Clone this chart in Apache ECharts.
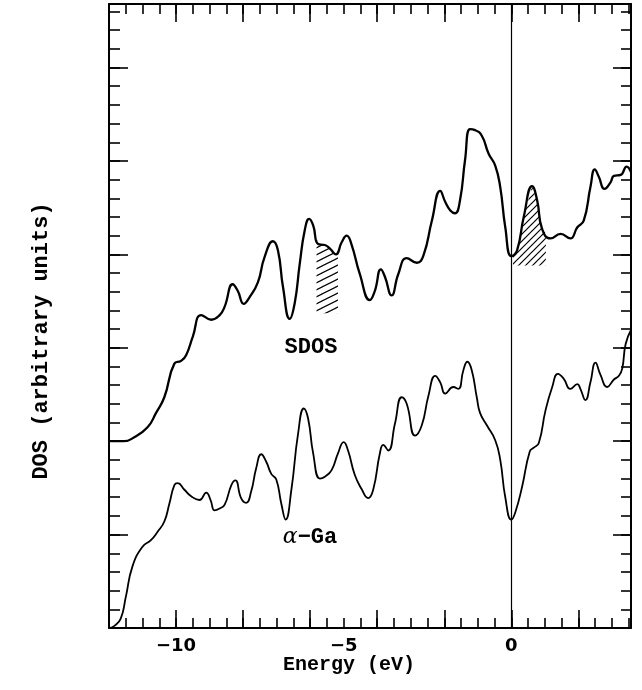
<!DOCTYPE html>
<html>
<head>
<meta charset="utf-8">
<script src="https://cdn.jsdelivr.net/npm/echarts@6/dist/echarts.min.js"></script>
<style>
html,body{margin:0;padding:0;background:#fff;}
#chart{width:642px;height:690px;}
</style>
</head>
<body>
<div id="chart"></div>
<script>
// ---- Data ----
const sdosEnergy = [-12.0,-11.55,-11.30,-10.85,-10.60,-10.35,-10.05,-9.85,-9.70,-9.50,-9.25,-8.95,-8.70,-8.55,-8.31,-8.16,-7.98,-7.81,-7.56,-7.36,-7.11,-6.96,-6.81,-6.61,-6.46,-6.31,-6.16,-6.03,-5.91,-5.76,-5.56,-5.41,-5.23,-5.06,-4.91,-4.77,-4.52,-4.22,-4.07,-3.89,-3.77,-3.57,-3.37,-3.12,-2.82,-2.62,-2.37,-2.12,-1.97,-1.82,-1.68,-1.53,-1.38,-1.23,-1.08,-0.88,-0.68,-0.48,-0.33,-0.18,0.0,0.17,0.37,0.62,0.77,0.92,1.17,1.47,1.76,1.97,2.16,2.36,2.49,2.61,2.78,2.96,3.06,3.26,3.44,3.57];
const sdosValues = [2.00,2.00,2.03,2.15,2.30,2.47,2.83,2.86,2.92,3.12,3.35,3.30,3.35,3.44,3.68,3.61,3.47,3.54,3.70,3.97,4.14,4.04,3.65,3.31,3.48,3.90,4.26,4.38,4.31,4.11,4.10,4.06,4.00,4.13,4.20,4.11,3.79,3.51,3.61,3.84,3.76,3.56,3.79,3.96,3.91,3.99,4.36,4.68,4.56,4.47,4.44,4.58,5.01,5.34,5.33,5.27,5.08,4.95,4.72,4.29,3.98,4.04,4.40,4.73,4.58,4.27,4.17,4.22,4.17,4.29,4.36,4.72,4.91,4.83,4.70,4.77,4.84,4.85,4.94,4.88];

const gaEnergy = [-12.0,-11.85,-11.65,-11.50,-11.30,-11.00,-10.75,-10.55,-10.35,-10.20,-10.05,-9.95,-9.75,-9.55,-9.30,-9.10,-8.97,-8.85,-8.70,-8.55,-8.35,-8.23,-8.06,-7.91,-7.76,-7.61,-7.46,-7.31,-7.16,-7.01,-6.86,-6.73,-6.56,-6.36,-6.19,-6.06,-5.91,-5.71,-5.56,-5.36,-5.17,-5.00,-4.87,-4.67,-4.47,-4.27,-4.12,-3.92,-3.82,-3.67,-3.47,-3.27,-3.12,-2.87,-2.67,-2.47,-2.27,-2.12,-1.97,-1.73,-1.58,-1.43,-1.31,-1.18,-1.03,-0.93,-0.73,-0.48,-0.33,-0.18,0.0,0.12,0.32,0.55,0.67,0.82,1.02,1.22,1.39,1.56,1.76,1.97,2.06,2.21,2.36,2.51,2.66,2.86,3.06,3.21,3.31,3.41,3.57];
const gaValues = [0.0,0.02,0.10,0.33,0.66,0.87,0.94,1.03,1.14,1.33,1.53,1.55,1.48,1.41,1.37,1.45,1.37,1.26,1.28,1.32,1.53,1.58,1.39,1.34,1.46,1.71,1.86,1.78,1.65,1.59,1.33,1.16,1.48,2.08,2.35,2.24,1.87,1.60,1.62,1.69,1.87,1.99,1.90,1.64,1.49,1.39,1.48,1.87,1.96,1.90,2.19,2.47,2.40,2.06,2.17,2.49,2.70,2.63,2.51,2.58,2.56,2.76,2.85,2.76,2.47,2.30,2.17,2.01,1.80,1.40,1.16,1.24,1.51,1.89,1.93,1.98,2.33,2.58,2.72,2.67,2.56,2.61,2.56,2.44,2.63,2.84,2.71,2.58,2.66,2.70,2.78,3.04,3.19];

// hatched energy windows under the SDOS curve: [E start, E end, lower bound]
const hatchStart = [-5.81, 0.05];
const hatchEnd = [-5.17, 1.03];
const hatchBase = [3.37, 3.88];

const xTickLabels = [-10, -5, 0];
const fermiEnergy = 0;

// ---- helpers ----
function zip(a, b) { return a.map((v, i) => [v, b[i]]); }
function interp(xs, ys, x) {
  if (x <= xs[0]) return ys[0];
  for (let i = 1; i < xs.length; i++) {
    if (x <= xs[i]) {
      const t = (x - xs[i - 1]) / (xs[i] - xs[i - 1]);
      return ys[i - 1] + t * (ys[i] - ys[i - 1]);
    }
  }
  return ys[ys.length - 1];
}
function makeHatch(w, h, lw) {
  const c = document.createElement('canvas');
  c.width = w; c.height = h;
  const ctx = c.getContext('2d');
  ctx.strokeStyle = '#000';
  ctx.lineWidth = lw;
  for (let k = -2; k <= 2; k++) {
    ctx.beginPath();
    ctx.moveTo(-w, 2 * h + k * h);
    ctx.lineTo(2 * w, -h + k * h);
    ctx.stroke();
  }
  return c;
}
const hatchPatterns = [
  { image: makeHatch(14, 7, 1.2), repeat: 'repeat' },
  { image: makeHatch(7, 7, 1.2), repeat: 'repeat' }
];

const X_MIN = -12, X_MAX = 3.57, Y_MIN = 0, Y_MAX = 6.68;
const tickFont = { fontFamily: 'DejaVu Sans', fontWeight: 'bold', fontSize: 18, color: '#000' };

function xAxisDef(position, interval, tickLen, showLine, showLabel) {
  return {
    type: 'value', position: position, min: X_MIN, max: X_MAX, interval: interval,
    axisLine: { show: showLine, onZero: false, lineStyle: { color: '#000', width: 2 } },
    axisTick: { show: true, inside: true, length: tickLen, lineStyle: { color: '#000', width: 1.6 } },
    axisLabel: Object.assign({
      show: showLabel, margin: 9,
      showMinLabel: true, showMaxLabel: true,
      formatter: function (v) {
        const r = Math.round(v * 100) / 100;
        if (xTickLabels.indexOf(r) < 0) return '';
        return r < 0 ? '\u2212' + Math.abs(r) : String(r);
      }
    }, tickFont),
    splitLine: { show: false }
  };
}
function yAxisDef(position, interval, tickLen, showLine) {
  return {
    type: 'value', position: position, min: Y_MIN, max: Y_MAX, interval: interval,
    axisLine: { show: showLine, onZero: false, lineStyle: { color: '#000', width: 2 } },
    axisTick: { show: true, inside: true, length: tickLen, lineStyle: { color: '#000', width: 1.6 } },
    axisLabel: { show: false },
    splitLine: { show: false }
  };
}

const chart = echarts.init(document.getElementById('chart'), null, { renderer: 'canvas' });

const option = {
  animation: false,
  backgroundColor: '#fff',
  grid: { left: 109, right: 11, top: 4, bottom: 62, containLabel: false, outerBoundsMode: 'none' },
  xAxis: [
    xAxisDef('bottom', 0.5, 10, true, true),
    xAxisDef('bottom', 2, 18, false, false),
    xAxisDef('top', 0.5, 10, true, false),
    xAxisDef('top', 2, 18, false, false)
  ],
  yAxis: [
    yAxisDef('left', 0.2, 11, true),
    yAxisDef('left', 1, 19, false),
    yAxisDef('right', 0.2, 10, true),
    yAxisDef('right', 1, 18, false)
  ],
  series: [
    {
      type: 'custom',
      coordinateSystem: 'cartesian2d',
      xAxisIndex: 0, yAxisIndex: 0,
      z: 1,
      silent: true,
      data: hatchStart.map((e, i) => [e, hatchBase[i], i]),
      renderItem: function (params, api) {
        const i = params.dataIndex;
        const e0 = hatchStart[i], e1 = hatchEnd[i], base = hatchBase[i];
        const pts = [];
        const n = 40;
        for (let k = 0; k <= n; k++) {
          const e = e0 + (e1 - e0) * k / n;
          pts.push(api.coord([e, interp(sdosEnergy, sdosValues, e)]));
        }
        pts.push(api.coord([e1, base]));
        pts.push(api.coord([e0, base]));
        return {
          type: 'polygon',
          shape: { points: pts },
          style: { fill: hatchPatterns[i], stroke: null }
        };
      }
    },
    {
      name: 'SDOS',
      type: 'line',
      xAxisIndex: 0, yAxisIndex: 0,
      data: zip(sdosEnergy, sdosValues),
      showSymbol: false,
      smooth: 0.5,
      z: 3,
      lineStyle: { color: '#000', width: 2.3 },
      markLine: {
        silent: true,
        symbol: ['none', 'none'],
        label: { show: false },
        lineStyle: { color: '#000', width: 1.2, type: 'solid' },
        data: [{ xAxis: fermiEnergy }]
      }
    },
    {
      name: 'α-Ga',
      type: 'line',
      xAxisIndex: 0, yAxisIndex: 0,
      data: zip(gaEnergy, gaValues),
      showSymbol: false,
      smooth: 0.5,
      z: 3,
      lineStyle: { color: '#000', width: 1.8 }
    }
  ],
  graphic: [
    {
      type: 'text', x: 311, y: 347, z: 10,
      style: {
        text: 'SDOS', align: 'center', verticalAlign: 'middle',
        fontFamily: 'Liberation Mono', fontWeight: 'bold', fontSize: 22, fill: '#000'
      }
    },
    {
      type: 'text', x: 310, y: 537, z: 10,
      style: {
        text: '{a|α}{b|\u2212Ga}', align: 'center', verticalAlign: 'middle',
        rich: {
          a: { fontFamily: 'DejaVu Serif', fontStyle: 'italic', fontSize: 22, fill: '#000' },
          b: { fontFamily: 'Liberation Mono', fontWeight: 'bold', fontSize: 22, fill: '#000' }
        }
      }
    },
    {
      type: 'text', x: 349, y: 665, z: 10,
      style: {
        text: 'Energy (eV)', align: 'center', verticalAlign: 'middle',
        fontFamily: 'Liberation Mono', fontWeight: 'bold', fontSize: 20, fill: '#000'
      }
    },
    {
      type: 'text', x: 41, y: 341, rotation: Math.PI / 2, z: 10,
      style: {
        text: 'DOS (arbitrary units)', align: 'center', verticalAlign: 'middle',
        fontFamily: 'Liberation Mono', fontWeight: 'bold', fontSize: 22, fill: '#000'
      }
    }
  ]
};
chart.setOption(option);
</script>
</body>
</html>
